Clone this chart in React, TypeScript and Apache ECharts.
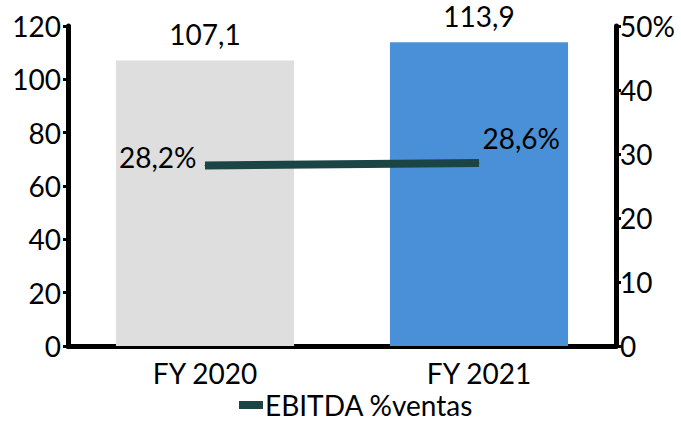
import React, { useEffect, useRef } from "react";
import * as echarts from "echarts";

const categories = ["FY 2020", "FY 2021"];
const ebitda = [107.1, 113.9];
const margin = [28.2, 28.6];
const barColors = ["#dedede", "#4a90d9"];
const leftTicks = [0, 20, 40, 60, 80, 100, 120];
const rightTicks = [0, 10, 20, 30, 40, 50];

const FONT = "Lato";
const FS = 28;

export default function App() {
  const ref = useRef<HTMLDivElement>(null);
  useEffect(() => {
    const chart = echarts.init(ref.current!, null, { renderer: "svg" });
    const axisLine = { show: true, lineStyle: { color: "#000", width: 5 } };
    chart.setOption({
      animation: false,
      textStyle: { fontFamily: FONT },
      grid: { left: 68, right: 65, top: 26, bottom: 75, containLabel: false },
      legend: {
        top: 391,
        left: 239,
        data: [{ name: "EBITDA %ventas", icon: "rect" }],
        itemWidth: 24,
        itemHeight: 8,
        itemGap: 4,
        padding: 0,
        textStyle: { fontFamily: FONT, fontSize: FS, color: "#000", padding: [0, 0, 0, -3] },
      },
      xAxis: {
        type: "category",
        data: categories,
        axisLine,
        axisTick: { show: false },
        axisLabel: { fontFamily: FONT, fontSize: FS, color: "#000", margin: 13 },
      },
      yAxis: [
        {
          type: "value",
          min: leftTicks[0],
          max: leftTicks[leftTicks.length - 1],
          interval: 20,
          splitLine: { show: false },
          axisLine,
          axisTick: { show: true, length: 5, lineStyle: { color: "#000", width: 3 } },
          axisLabel: { fontFamily: FONT, fontSize: FS, color: "#000", margin: 7 },
        },
        {
          type: "value",
          min: rightTicks[0],
          max: rightTicks[rightTicks.length - 1],
          interval: 10,
          position: "right",
          splitLine: { show: false },
          axisLine,
          axisTick: { show: true, length: 5, lineStyle: { color: "#000", width: 3 } },
          axisLabel: {
            fontFamily: FONT,
            fontSize: FS,
            color: "#000",
            margin: 4,
            formatter: (v: number) => (v === 50 ? v + "%" : String(v)),
          },
        },
      ],
      series: [
        {
          name: "EBITDA",
          type: "bar",
          yAxisIndex: 0,
          barWidth: "65%",
          data: ebitda.map((v, i) => ({ value: v, itemStyle: { color: barColors[i] } })),
          label: {
            show: true,
            position: "top",
            distance: 12,
            fontFamily: FONT,
            fontSize: FS,
            color: "#000",
            formatter: (p: any) => String(p.value).replace(".", ","),
          },
        },
        {
          name: "EBITDA %ventas",
          type: "line",
          yAxisIndex: 1,
          symbol: "circle",
          symbolSize: 1,
          showSymbol: true,
          lineStyle: { color: "#1b4545", width: 8, cap: "butt" },
          itemStyle: { color: "#1b4545" },
          label: {
            show: true,
            fontFamily: FONT,
            fontSize: FS,
            color: "#000",
            formatter: (p: any) => String(p.value).replace(".", ",") + "%",
          },
          data: [
            {
              value: margin[0],
              label: { position: "left", offset: [0, -9], distance: 8 },
            },
            {
              value: margin[1],
              label: { position: "right", offset: [-1, -25], distance: 4 },
            },
          ],
        },
      ],
    });
    return () => chart.dispose();
  }, []);
  return (
    <div
      ref={ref}
      style={{ position: "absolute", left: 0, top: 0, width: 681, height: 421 }}
    />
  );
}
